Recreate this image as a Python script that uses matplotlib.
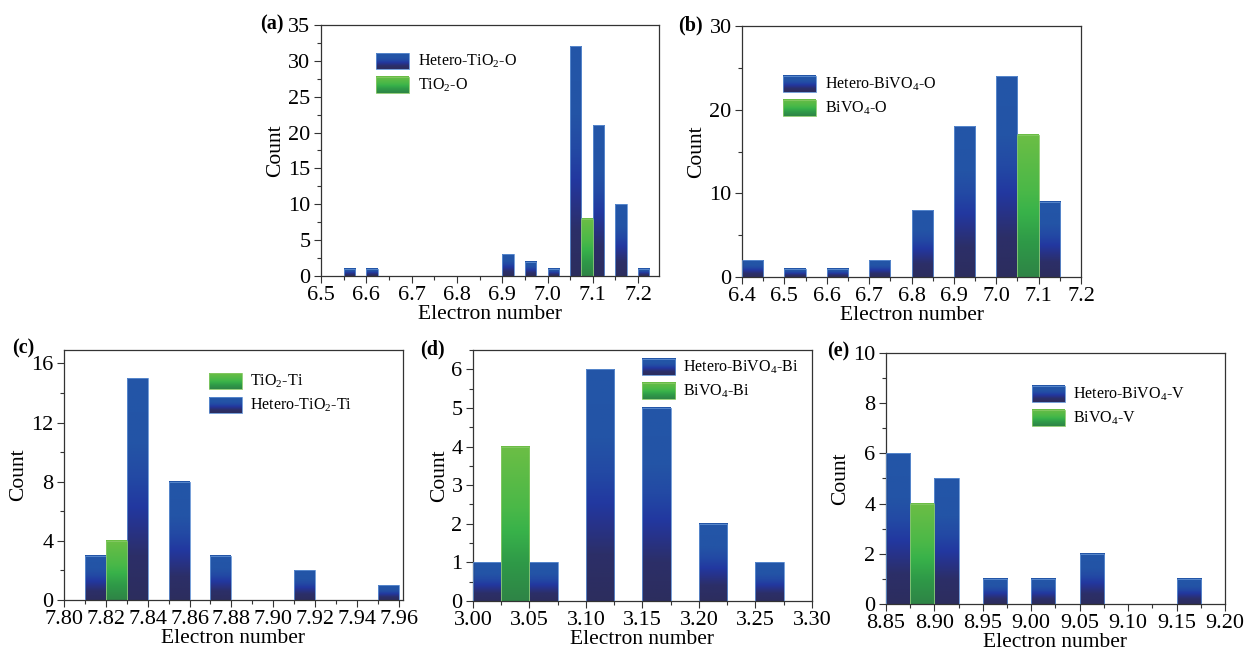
import numpy as np
import matplotlib
matplotlib.use("Agg")
import matplotlib.pyplot as plt
from matplotlib.colors import LinearSegmentedColormap
from matplotlib.patches import Rectangle
from matplotlib.ticker import MultipleLocator

plt.rcParams["font.family"] = "Liberation Serif"
plt.rcParams["mathtext.fontset"] = "custom"
plt.rcParams["mathtext.rm"] = "Liberation Serif"

# (a) TiO2 O atoms
a_het_x = [6.55, 6.60, 6.90, 6.95, 7.00, 7.05, 7.10, 7.15, 7.20]
a_het_n = [1, 1, 3, 2, 1, 32, 21, 10, 1]
a_pure_x = [7.075]
a_pure_n = [8]

# (b) BiVO4 O atoms
b_het_x = [6.40, 6.50, 6.60, 6.70, 6.80, 6.90, 7.00, 7.10]
b_het_n = [2, 1, 1, 2, 8, 18, 24, 9]
b_pure_x = [7.05]
b_pure_n = [17]

# (c) TiO2 Ti atoms
c_het_x = [7.81, 7.83, 7.85, 7.87, 7.91, 7.95]
c_het_n = [3, 15, 8, 3, 2, 1]
c_pure_x = [7.82]
c_pure_n = [4]

# (d) BiVO4 Bi atoms
d_het_x = [3.00, 3.05, 3.10, 3.15, 3.20, 3.25]
d_het_n = [1, 1, 6, 5, 2, 1]
d_pure_x = [3.025]
d_pure_n = [4]

# (e) BiVO4 V atoms
e_het_x = [8.85, 8.90, 8.95, 9.00, 9.05, 9.15]
e_het_n = [6, 5, 1, 1, 2, 1]
e_pure_x = [8.875]
e_pure_n = [4]

blue = LinearSegmentedColormap.from_list("blue", [
    (0.0, "#2c2d5e"), (0.2, "#2c2f68"), (0.33, "#27338a"), (0.42, "#2238a0"),
    (0.55, "#2349a4"), (0.7, "#2354a6"), (1.0, "#2356a8")])
green = LinearSegmentedColormap.from_list("green", [
    (0.0, "#2e8446"), (0.25, "#2f9a48"), (0.45, "#38b24a"), (0.6, "#4ab848"),
    (1.0, "#6cbe45")])
blue_edge = "#5f8fd2"
green_edge = "#86c966"
grad = np.linspace(0, 1, 256).reshape(-1, 1)


def grad_bars(ax, x, n, w, cmap, edge):
    bars = ax.bar(x, n, width=w, align="edge", color="none",
                  edgecolor=edge, linewidth=0.6, zorder=3)
    for b in bars:
        x0, y0, bw, bh = b.get_x(), b.get_y(), b.get_width(), b.get_height()
        ax.imshow(grad, extent=[x0, x0 + bw, y0, y0 + bh], aspect="auto",
                  cmap=cmap, origin="lower", zorder=2)


def legend_entry(ax, x0, x1, y0, y1, tx, cmap, edge, label):
    ax.imshow(grad, extent=[x0, x1, y0, y1], transform=ax.transAxes,
              aspect="auto", cmap=cmap, origin="lower", zorder=4)
    ax.add_patch(Rectangle((x0, y0), x1 - x0, y1 - y0, transform=ax.transAxes,
                           fill=False, edgecolor=edge, lw=0.6, zorder=5))
    ax.text(tx, (y0 + y1) / 2, label, transform=ax.transAxes, va="center",
            fontsize=11.5)


def style(ax, xlim, ylim, xmaj, xmin, ymaj, ymin):
    ax.set_xlim(*xlim)
    ax.set_ylim(*ylim)
    ax.xaxis.set_major_locator(MultipleLocator(xmaj))
    ax.xaxis.set_minor_locator(MultipleLocator(xmin))
    ax.yaxis.set_major_locator(MultipleLocator(ymaj))
    ax.yaxis.set_minor_locator(MultipleLocator(ymin))
    ax.tick_params(which="major", direction="out", length=5, width=0.8,
                   labelsize=16, color="#333333", top=False, right=False,
                   pad=2.5)
    ax.tick_params(which="minor", direction="out", length=3, width=0.8,
                   color="#333333", top=False, right=False)
    for s in ax.spines.values():
        s.set_color("#333333")
        s.set_linewidth(0.9)
    ax.set_xlabel("Electron number", fontsize=15.5, labelpad=0)
    ax.set_ylabel("Count", fontsize=15.5, labelpad=2)


fig = plt.figure(figsize=(12.45, 6.5), dpi=100)

# (a)
ax = fig.add_axes([0.2578, 0.5754, 0.2715, 0.3862])
grad_bars(ax, a_het_x, a_het_n, 0.025, blue, blue_edge)
grad_bars(ax, a_pure_x, a_pure_n, 0.025, green, green_edge)
legend_entry(ax, 0.163, 0.260, 0.825, 0.888, 0.287, blue, blue_edge, r"Hetero-TiO$_\mathrm{2}$-O")
legend_entry(ax, 0.163, 0.260, 0.729, 0.793, 0.287, green, green_edge, r"TiO$_\mathrm{2}$-O")
style(ax, (6.5, 7.246), (0, 35), 0.1, 0.05, 5, 2.5)
ax.xaxis.set_major_formatter("{x:.1f}")

# (b)
ax = fig.add_axes([0.5960, 0.5738, 0.2723, 0.3862])
grad_bars(ax, b_het_x, b_het_n, 0.05, blue, blue_edge)
grad_bars(ax, b_pure_x, b_pure_n, 0.05, green, green_edge)
legend_entry(ax, 0.121, 0.218, 0.737, 0.801, 0.245, blue, blue_edge, r"Hetero-BiVO$_\mathrm{4}$-O")
legend_entry(ax, 0.121, 0.218, 0.641, 0.705, 0.245, green, green_edge, r"BiVO$_\mathrm{4}$-O")
style(ax, (6.4, 7.2), (0, 30), 0.1, 0.05, 10, 5)
ax.xaxis.set_major_formatter("{x:.1f}")

# (c)
ax = fig.add_axes([0.0514, 0.0769, 0.2723, 0.3846])
grad_bars(ax, c_het_x, c_het_n, 0.01, blue, blue_edge)
grad_bars(ax, c_pure_x, c_pure_n, 0.01, green, green_edge)
legend_entry(ax, 0.428, 0.525, 0.844, 0.908, 0.549, green, green_edge, r"TiO$_\mathrm{2}$-Ti")
legend_entry(ax, 0.428, 0.525, 0.748, 0.812, 0.549, blue, blue_edge, r"Hetero-TiO$_\mathrm{2}$-Ti")
style(ax, (7.80, 7.962), (0, 16.9), 0.02, 0.01, 4, 2)
ax.xaxis.set_major_formatter("{x:.2f}")

# (d)
ax = fig.add_axes([0.3799, 0.0754, 0.2723, 0.3862])
grad_bars(ax, d_het_x, d_het_n, 0.025, blue, blue_edge)
grad_bars(ax, d_pure_x, d_pure_n, 0.025, green, green_edge)
legend_entry(ax, 0.4985, 0.596, 0.900, 0.964, 0.619, blue, blue_edge, r"Hetero-BiVO$_\mathrm{4}$-Bi")
legend_entry(ax, 0.4985, 0.596, 0.805, 0.869, 0.619, green, green_edge, r"BiVO$_\mathrm{4}$-Bi")
style(ax, (3.0, 3.30), (0, 6.5), 0.05, 0.025, 1, 0.5)
ax.xaxis.set_major_formatter("{x:.2f}")

# (e)
ax = fig.add_axes([0.7116, 0.0708, 0.2723, 0.3862])
grad_bars(ax, e_het_x, e_het_n, 0.025, blue, blue_edge)
grad_bars(ax, e_pure_x, e_pure_n, 0.025, green, green_edge)
legend_entry(ax, 0.431, 0.528, 0.805, 0.869, 0.552, blue, blue_edge, r"Hetero-BiVO$_\mathrm{4}$-V")
legend_entry(ax, 0.431, 0.528, 0.709, 0.773, 0.552, green, green_edge, r"BiVO$_\mathrm{4}$-V")
style(ax, (8.85, 9.20), (0, 10), 0.05, 0.025, 2, 1)
ax.xaxis.set_major_formatter("{x:.2f}")

for lab, x, y in [("(a)", 0.2088, 0.963), ("(b)", 0.5446, 0.9615),
                  ("(c)", 0.0096, 0.4646), ("(d)", 0.3373, 0.463),
                  ("(e)", 0.664, 0.4585)]:
    fig.text(x, y, lab, fontsize=14.5, fontweight="bold", ha="left", va="center")

fig.savefig("out.png", dpi=100)
